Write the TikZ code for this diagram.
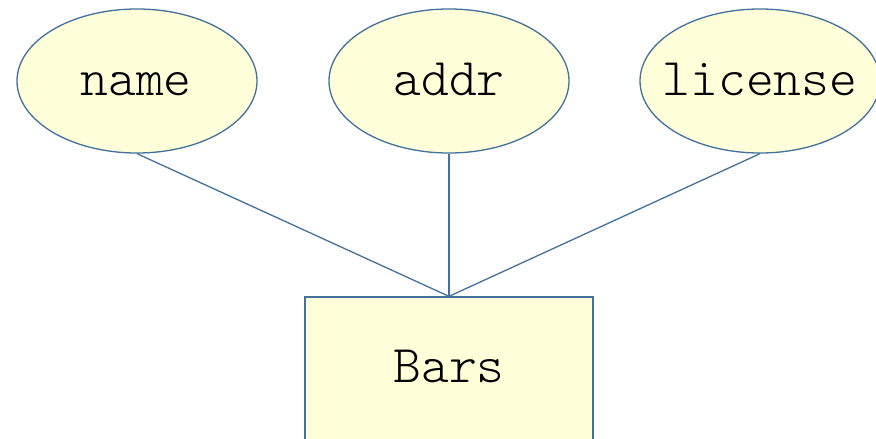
\documentclass[tikz,border=0pt]{standalone}
\usepackage{fontspec}
\setmonofont{Latin Modern Mono Light}
\usetikzlibrary{shapes.geometric}
\definecolor{edgeblue}{RGB}{65,113,156}
\definecolor{paleyellow}{RGB}{255,255,217}
\tikzset{
  attr/.style={ellipse, draw=edgeblue, fill=paleyellow, line width=1.3pt,
    minimum width=240pt, minimum height=144pt, inner sep=0pt},
  entity/.style={rectangle, draw=edgeblue, fill=paleyellow, line width=1.3pt,
    minimum width=288pt, minimum height=146pt, inner sep=0pt},
  caption/.style={anchor=base, inner sep=0pt,
    font=\ttfamily\fontsize{53}{53}\selectfont},
  link/.style={draw=edgeblue, line width=1.3pt}
}
\begin{document}
\begin{tikzpicture}[x=1pt, y=-1pt]
  \useasboundingbox (0,0) rectangle (876,439);
  \node[attr] (name) at (137,81) {};
  \node[attr] (addr) at (449,81) {};
  \node[attr] (license) at (760,81) {};
  \node[entity] (bars) at (449,370) {};
  \node[caption] (nameText) at (136,95) {name};
  \node[caption] (addrText) at (449,95) {addr};
  \node[caption] (licenseText) at (760,95) {license};
  \node[caption] (barsText) at (449,382) {Bars};
  \draw[link] (name.south) -- (bars.north);
  \draw[link] (addr.south) -- (bars.north);
  \draw[link] (license.south) -- (bars.north);
\end{tikzpicture}
\end{document}
